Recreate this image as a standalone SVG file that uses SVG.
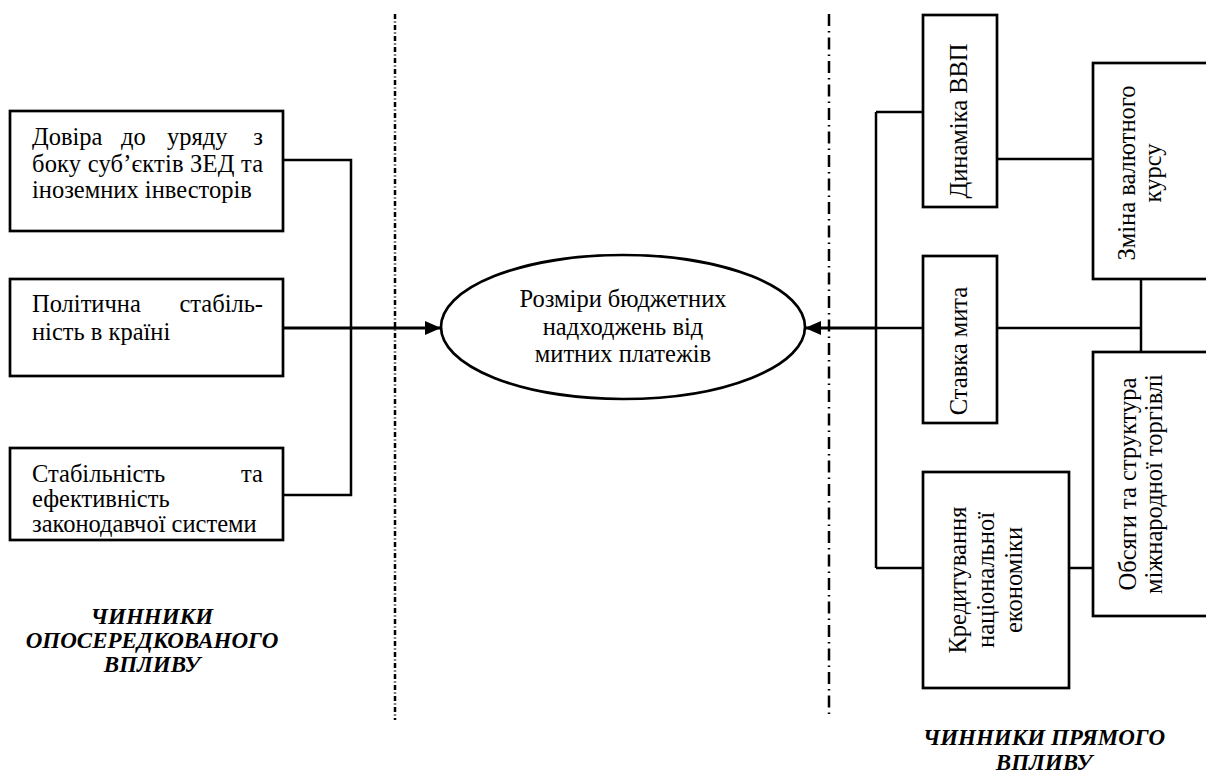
<svg xmlns="http://www.w3.org/2000/svg" width="1206" height="776" viewBox="0 0 1206 776" font-family="'Liberation Serif', 'Times New Roman', serif">
<style>
text{font-family:"Liberation Serif","Times New Roman",serif}
.box{fill:#fff;stroke:#000;stroke-width:2.7}
.t{font-size:24.5px;fill:#000}
.m{text-anchor:middle}
.h{font-size:23px;font-weight:bold;font-style:italic;fill:#000;text-anchor:middle}
.c{fill:none;stroke:#000;stroke-width:2.5}
.a{fill:none;stroke:#000;stroke-width:3}
.dl{fill:none;stroke:#000;stroke-width:2.5;stroke-dasharray:5 2.5 1 2.5}
.dr{fill:none;stroke:#000;stroke-width:2.5;stroke-dasharray:12 5 1.5 5}
</style>
<defs>
<marker id="arr" markerWidth="16" markerHeight="14" refX="16" refY="7" orient="auto" markerUnits="userSpaceOnUse">
<path d="M0,0 L16,7 L0,14 Z" fill="#000"/>
</marker>
</defs>
<rect width="1206" height="776" fill="#fff"/>
<g id="separators">
<line class="dl" x1="395" y1="14" x2="395" y2="720"/>
<line class="dr" x1="829" y1="14" x2="829" y2="716"/>
</g>
<g id="connectors">
<polyline class="c" points="283,160 351,160 351,495 283,495"/>
<line class="a" x1="283" y1="328" x2="441" y2="328" marker-end="url(#arr)"/>
<line class="c" x1="876" y1="112" x2="876" y2="568"/>
<line class="c" x1="876" y1="112" x2="923" y2="112"/>
<line class="c" x1="876" y1="568" x2="923" y2="568"/>
<line class="c" x1="876" y1="328" x2="923" y2="328"/>
<line class="a" x1="876" y1="328" x2="805" y2="328" marker-end="url(#arr)"/>
<line class="c" x1="997" y1="328" x2="1141" y2="328"/>
<line class="c" x1="1141" y1="279" x2="1141" y2="352"/>
<line class="c" x1="997" y1="159" x2="1093" y2="159"/>
<line class="c" x1="1069" y1="568" x2="1093" y2="568"/>
</g>
<g id="n-dovira">
<rect class="box" x="10" y="111" width="273" height="120"/>
<text class="t" y="145"><tspan x="32">Довіра</tspan><tspan x="121">до</tspan><tspan x="167">уряду</tspan><tspan x="263" text-anchor="end">з</tspan></text>
<text class="t" y="172" x="32" textLength="231" lengthAdjust="spacing">боку суб’єктів ЗЕД та</text>
<text class="t" y="198" x="32">іноземних інвесторів</text>
</g>
<g id="n-polit">
<rect class="box" x="10" y="279" width="273" height="97"/>
<text class="t" y="312"><tspan x="32">Політична</tspan><tspan x="263" text-anchor="end">стабіль-</tspan></text>
<text class="t" y="340" x="32">ність в країні</text>
</g>
<g id="n-stab">
<rect class="box" x="10" y="448" width="273" height="92"/>
<text class="t" y="482"><tspan x="32">Стабільність</tspan><tspan x="263" text-anchor="end">та</tspan></text>
<text class="t" y="507" x="32">ефективність</text>
<text class="t" y="532" x="32">законодавчої системи</text>
</g>
<g id="n-center">
<ellipse cx="623" cy="327" rx="182" ry="72" fill="#fff" stroke="#000" stroke-width="2.7"/>
<text class="t m" x="623" y="307">Розміри бюджетних</text>
<text class="t m" x="623" y="335">надходжень від</text>
<text class="t m" x="623" y="362">митних платежів</text>
</g>
<g id="n-vvp">
<rect class="box" x="923" y="15" width="74" height="192"/>
<text class="t m" transform="translate(967,121) rotate(-90)">Динаміка ВВП</text>
</g>
<g id="n-kurs">
<rect class="box" x="1093" y="63" width="120" height="216"/>
<text class="t m" transform="translate(1135,173) rotate(-90)">Зміна валютного</text>
<text class="t m" transform="translate(1161,173) rotate(-90)">курсу</text>
</g>
<g id="n-myto">
<rect class="box" x="923" y="256" width="74" height="167"/>
<text class="t m" transform="translate(967,351) rotate(-90)">Ставка мита</text>
</g>
<g id="n-obsyagy">
<rect class="box" x="1093" y="352" width="120" height="264"/>
<text class="t m" transform="translate(1136,484) rotate(-90)">Обсяги та структура</text>
<text class="t m" transform="translate(1162,484) rotate(-90)">міжнародної торгівлі</text>
</g>
<g id="n-kredyt">
<rect class="box" x="923" y="472" width="146" height="216"/>
<text class="t m" transform="translate(966,580) rotate(-90)">Кредитування</text>
<text class="t m" transform="translate(994,580) rotate(-90)">національної</text>
<text class="t m" transform="translate(1022,580) rotate(-90)">економіки</text>
</g>
<g id="labels">
<text class="h" x="152" y="624">ЧИННИКИ</text>
<text class="h" x="152" y="648">ОПОСЕРЕДКОВАНОГО</text>
<text class="h" x="152" y="672">ВПЛИВУ</text>
<text class="h" x="1044" y="745">ЧИННИКИ ПРЯМОГО</text>
<text class="h" x="1044" y="770">ВПЛИВУ</text>
</g>
</svg>
